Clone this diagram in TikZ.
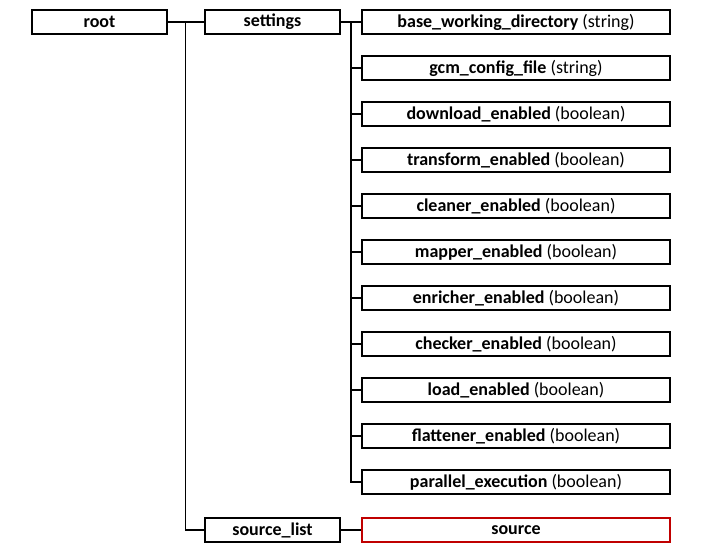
\documentclass[tikz,border=0pt]{standalone}
\usepackage{fontspec}
\setmainfont{Carlito}
\usepackage{xcolor}
\usetikzlibrary{positioning}
\definecolor{boxred}{RGB}{192,0,0}

\begin{document}
\begin{tikzpicture}[x=1pt, y=-1pt, line width=1.4pt,
    box/.style = {draw, rectangle, line width=1.4pt, minimum height=24pt, inner sep=0pt, font=\fontsize{18}{20}\selectfont},
    short/.style = {box, minimum width=135pt},
    long/.style = {box, minimum width=308pt}]
    \useasboundingbox (0,0) rectangle (720,551);

    % 坐标定义
    \node[short] (root) at (99.5,22) {\textbf{root}};
    \node[short] (settings) at (272.5,22) {\textbf{settings}};
    \node[short] (srclist) at (272.5,530) {\textbf{source\_list}};
    \node[long, draw=boxred] (source) at (516,530) {\textbf{source}};
    \coordinate (rootbus) at (185.5,22);
    \coordinate (setbus) at (351,22);

    \foreach \name/\key/\typ [count=\i from 0] in {
        bwd/base\_working\_directory/string,
        gcm/gcm\_config\_file/string,
        download/download\_enabled/boolean,
        transform/transform\_enabled/boolean,
        cleaner/cleaner\_enabled/boolean,
        mapper/mapper\_enabled/boolean,
        enricher/enricher\_enabled/boolean,
        checker/checker\_enabled/boolean,
        load/load\_enabled/boolean,
        flattener/flattener\_enabled/boolean,
        parallel/parallel\_execution/boolean} {
        \node[long] (\name) at (516,22+46*\i) {\textbf{\key} (\typ)};
        \draw (setbus) |- (\name.west);
    }

    % 边定义
    \draw (root) -- (settings);
    \draw (settings) -- (bwd);
    \draw (rootbus) |- (srclist);
    \draw (srclist) -- (source);
\end{tikzpicture}
\end{document}
